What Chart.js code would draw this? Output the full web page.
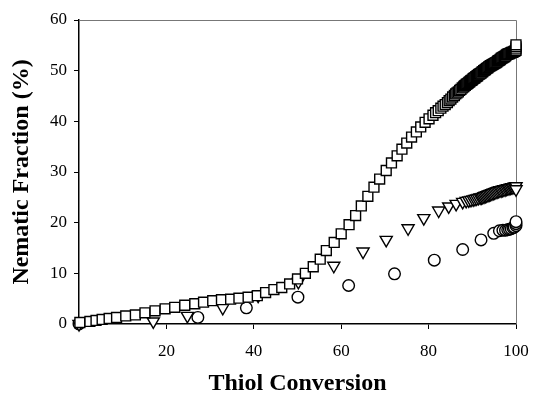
<!DOCTYPE html>
<html lang="en">
<head>
  <meta charset="UTF-8" />
  <title>Nematic Fraction vs Thiol Conversion</title>
  <script src="https://cdn.jsdelivr.net/npm/chart.js"></script>
  <style>
    * { margin: 0; padding: 0; box-sizing: border-box; }
    body { background-color: #fff; }
    #plot { display: block; }
  </style>
</head>
<body>
  <canvas id="plot" width="534" height="396"></canvas>
  <script>
    // squares: conversion (%) and nematic fraction (%)
    const squareConv = [0.2, 2.5, 3.9, 5.3, 6.9, 8.6, 10.7, 12.9, 15.1, 17.4, 19.7, 21.9, 24.2, 26.5, 28.5, 30.6, 32.6, 34.7, 36.6, 38.7,
      40.8, 42.7, 44.6, 46.4, 48.2, 50.0, 51.8, 53.6, 55.2, 56.6, 58.4, 60.0, 61.8, 63.3, 64.6, 66.1, 67.5, 68.8, 70.3, 71.5,
      72.8, 73.9, 75.0, 76.1, 77.2, 78.2, 79.2, 80.1, 81.0, 81.6, 82.2, 82.8, 83.3, 83.8, 84.3, 84.7, 85.1, 85.5, 85.9, 86.2,
      86.5, 86.8, 87.1, 87.4, 87.7, 88.0, 88.2, 88.4, 88.6, 88.8, 89.0, 89.2, 89.4, 89.6, 89.8, 90.0, 90.2, 90.4, 90.6, 90.8,
      91.0, 91.2, 91.4, 91.6, 91.8, 92.0, 92.2, 92.4, 92.6, 92.8, 93.0, 93.2, 93.4, 93.6, 93.8, 94.0, 94.2, 94.4, 94.6, 94.8,
      95.0, 95.2, 95.4, 95.6, 95.8, 96.0, 96.2, 96.4, 96.6, 96.8, 97.0, 97.2, 97.4, 97.6, 97.8, 98.0, 98.2, 98.4, 98.6, 98.8,
      99.0, 99.2, 99.4, 99.6, 99.8, 100, 100, 100, 100];
    const squareFrac = [0.3, 0.5, 0.7, 0.9, 1.1, 1.3, 1.6, 1.8, 2.2, 2.6, 3.0, 3.3, 3.7, 4.0, 4.3, 4.6, 4.8, 4.9, 5.1, 5.3,
      5.6, 6.2, 6.8, 7.2, 7.9, 8.9, 10.0, 11.3, 12.8, 14.5, 16.1, 17.8, 19.6, 21.4, 23.3, 25.2, 27.0, 28.6, 30.3, 31.8,
      33.2, 34.5, 35.7, 36.9, 37.9, 38.9, 39.8, 40.5, 41.2, 41.7, 42.1, 42.6, 43.0, 43.3, 43.7, 44.1, 44.4, 44.8, 45.1, 45.4,
      45.6, 45.8, 46.1, 46.3, 46.6, 46.8, 47.0, 47.1, 47.3, 47.4, 47.5, 47.7, 47.8, 48.0, 48.1, 48.2, 48.4, 48.5, 48.6, 48.8,
      48.9, 49.0, 49.2, 49.3, 49.4, 49.5, 49.7, 49.8, 50.0, 50.1, 50.2, 50.4, 50.5, 50.6, 50.8, 50.9, 51.0, 51.1, 51.2, 51.3,
      51.4, 51.5, 51.6, 51.7, 51.9, 52.0, 52.1, 52.2, 52.4, 52.5, 52.6, 52.7, 52.8, 52.9, 53.1, 53.2, 53.3, 53.3, 53.4, 53.5,
      53.6, 53.6, 53.7, 53.8, 53.9, 54.0, 54.3, 54.7, 55.1];

    // down triangles
    const triangleConv = [0, 17.0, 24.8, 32.9, 41.0, 50.2, 58.3, 65.0, 70.3, 75.3, 78.9, 82.3, 84.6, 86.3, 87.8, 88.6, 89.2, 89.7,
      90.2, 90.6, 91.0, 91.4, 91.8, 92.1, 92.4, 92.7, 93.0, 93.3, 93.6, 93.9, 94.2, 94.5, 94.8, 95.1, 95.4, 95.7, 96.0, 96.3,
      96.6, 96.9, 97.2, 97.5, 97.8, 98.1, 98.4, 98.7, 99.0, 99.3, 99.6, 99.8, 100, 100];
    const triangleFrac = [0, 0.5, 1.6, 3.2, 5.6, 8.3, 11.5, 14.3, 16.6, 18.9, 20.9, 22.4, 23.2, 23.7, 24.1, 24.3, 24.4, 24.5,
      24.6, 24.7, 24.8, 24.9, 25.0, 25.0, 25.1, 25.2, 25.3, 25.4, 25.5, 25.6, 25.7, 25.8, 25.9, 26.0, 26.1, 26.2, 26.3, 26.4,
      26.4, 26.5, 26.6, 26.6, 26.7, 26.8, 26.8, 26.9, 27.0, 27.0, 27.1, 27.1, 27.2, 26.6];

    // circles
    const circleConv = [0, 27.2, 38.3, 50.1, 61.7, 72.2, 81.3, 87.8, 92.0, 94.9, 96.2, 97.0, 97.6, 98.1, 98.5, 98.9, 99.3, 99.6, 100, 100, 100];
    const circleFrac = [0, 1.3, 3.2, 5.3, 7.6, 9.9, 12.6, 14.7, 16.6, 17.9, 18.4, 18.5, 18.5, 18.6, 18.7, 18.8, 19.0, 19.1, 19.4, 19.8, 20.2];

    const xTicks = [20, 40, 60, 80, 100];
    const yTicks = [0, 10, 20, 30, 40, 50, 60];

    function toPoints(xs, ys) {
      return xs.map((x, i) => ({ x: x, y: ys[i] }));
    }

    const serif = 'Liberation Serif, Times New Roman, serif';

    // thin grey line along the top and right edge of the plot area
    const frame = {
      id: 'frame',
      beforeDatasetsDraw(chart) {
        const { ctx, chartArea: a } = chart;
        ctx.save();
        ctx.strokeStyle = '#777';
        ctx.lineWidth = 1;
        ctx.beginPath();
        ctx.moveTo(a.left, a.top + 0.5);
        ctx.lineTo(a.right + 0.5, a.top + 0.5);
        ctx.lineTo(a.right + 0.5, a.bottom);
        ctx.stroke();
        ctx.restore();
      }
    };

    const marker = { backgroundColor: '#fff', borderColor: '#000', borderWidth: 1.4, showLine: false, clip: false };

    new Chart(document.getElementById('plot').getContext('2d'), {
      type: 'scatter',
      data: {
        datasets: [
          { label: 'squares', data: toPoints(squareConv, squareFrac), pointStyle: 'rect', pointRadius: 7, ...marker },
          { label: 'triangles', data: toPoints(triangleConv, triangleFrac), pointStyle: 'triangle', pointRotation: 180, pointRadius: 7, ...marker },
          { label: 'circles', data: toPoints(circleConv, circleFrac), pointStyle: 'circle', pointRadius: 5.8, ...marker }
        ]
      },
      options: {
        responsive: false,
        animation: false,
        events: [],
        layout: { padding: { top: 20, right: 18, bottom: 0, left: 0 } },
        plugins: { legend: { display: false }, tooltip: { enabled: false } },
        scales: {
          x: {
            type: 'linear',
            min: 0,
            max: 100,
            afterFit(scale) {
              scale.height = 72;
              scale.paddingLeft = 0;
              scale.paddingRight = 0;
            },
            afterBuildTicks(scale) { scale.ticks = xTicks.map(v => ({ value: v })); },
            border: { color: '#000', width: 1.5 },
            grid: { drawOnChartArea: false, drawTicks: true, tickLength: 5, color: '#000', lineWidth: 1 },
            ticks: { color: '#000', padding: 12, maxRotation: 0, font: { family: serif, size: 17 } },
            title: {
              display: true,
              text: 'Thiol Conversion',
              color: '#000',
              font: { family: serif, size: 24, weight: 'bold', lineHeight: 1 },
              padding: { top: 0, bottom: 0 }
            }
          },
          y: {
            type: 'linear',
            min: 0,
            max: 60,
            afterFit(scale) {
              scale.width = 79;
              scale.paddingTop = 0;
              scale.paddingBottom = 0;
            },
            afterBuildTicks(scale) { scale.ticks = yTicks.map(v => ({ value: v })); },
            border: { color: '#000', width: 1.5 },
            grid: { drawOnChartArea: false, drawTicks: true, tickLength: 5, color: '#000', lineWidth: 1 },
            ticks: { color: '#000', padding: 7, font: { family: serif, size: 17 } },
            title: {
              display: true,
              text: 'Nematic Fraction (%)',
              color: '#000',
              font: { family: serif, size: 24, weight: 'bold', lineHeight: 1 },
              padding: { top: 10, bottom: 0 }
            }
          }
        }
      },
      plugins: [frame]
    });
  </script>
</body>
</html>
